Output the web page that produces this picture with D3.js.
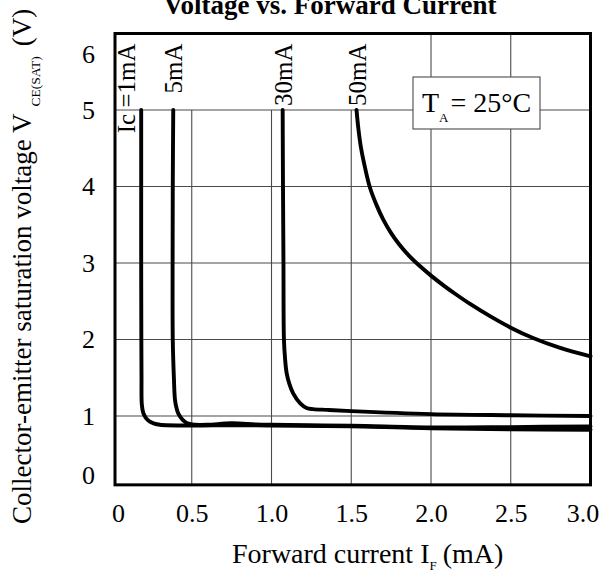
<!DOCTYPE html>
<html>
<head>
<meta charset="utf-8">
<script src="https://cdn.jsdelivr.net/npm/d3@7"></script>
<style>
  html, body { margin: 0; padding: 0; background: #fff; }
  svg { display: block; font-family: "Liberation Serif", "Times New Roman", serif; }
</style>
</head>
<body>
<div id="chart"></div>
<script>
// Axis ticks
const xTicks = [0, 0.5, 1.0, 1.5, 2.0, 2.5, 3.0];
const xTickLabels = ['0', '0.5', '1.0', '1.5', '2.0', '2.5', '3.0'];
const yTicks = [0, 1, 2, 3, 4, 5, 6];

// Curve labels (one per collector current)
const seriesNames = ['Ic =1mA', '5mA', '30mA', '50mA'];

// [forward current IF (mA), VCE(sat) (V)]
const ic1mA = [
  [0.183, 5.0], [0.183, 4.0], [0.183, 3.0], [0.184, 2.0], [0.185, 1.5],
  [0.187, 1.15], [0.196, 1.04], [0.211, 0.98], [0.235, 0.93], [0.265, 0.90],
  [0.30, 0.885], [0.5, 0.875], [0.75, 0.88], [1.0, 0.875], [1.5, 0.865],
  [2.0, 0.84], [2.5, 0.825], [3.0, 0.82]
];
const ic5mA = [
  [0.384, 5.0], [0.381, 4.0], [0.380, 3.0], [0.381, 2.0], [0.388, 1.5],
  [0.395, 1.21], [0.405, 1.10], [0.416, 1.03], [0.443, 0.95], [0.478, 0.90],
  [0.52, 0.885], [0.6, 0.885], [0.75, 0.905], [0.9, 0.89], [1.0, 0.885],
  [1.5, 0.872], [2.0, 0.85], [2.5, 0.855], [3.0, 0.865]
];
const ic30mA = [
  [1.070, 5.0], [1.072, 4.0], [1.075, 3.0], [1.078, 2.0], [1.085, 1.75],
  [1.095, 1.56], [1.112, 1.42], [1.135, 1.30], [1.18, 1.165], [1.22, 1.105],
  [1.26, 1.09], [1.35, 1.08], [1.5, 1.064], [2.0, 1.025], [2.5, 1.01], [3.0, 1.0]
];
const ic50mA = [
  [1.533, 5.0], [1.545, 4.75], [1.56, 4.52], [1.586, 4.25], [1.618, 3.98],
  [1.66, 3.75], [1.70, 3.57], [1.75, 3.39], [1.80, 3.245], [1.86, 3.10],
  [1.93, 2.96], [2.0, 2.835], [2.08, 2.705], [2.16, 2.585], [2.245, 2.465],
  [2.37, 2.305], [2.5, 2.155], [2.64, 2.02], [2.81, 1.89], [3.0, 1.78]
];
const seriesData = [ic1mA, ic5mA, ic30mA, ic50mA];

const width = 613, height = 578;
const fontSerif = '"Liberation Serif", "Times New Roman", serif';

const svg = d3.select('#chart')
  .append('svg')
  .attr('width', width)
  .attr('height', height)
  .attr('viewBox', `0 0 ${width} ${height}`);

svg.append('rect').attr('width', width).attr('height', height).attr('fill', '#fff');

const x = d3.scaleLinear().domain([0, 3]).range([112, 590.5]);
const y = d3.scaleLinear().domain([0, 6]).range([492.5, 33.5]);

// the original drawing's floor sits a little above 0 V
const vFloor = 0.1;
const frameLeft = x(0) + 3, frameRight = x(3);
const frameTop = y(6), frameBottom = y(vFloor);

// Grid
const grid = svg.append('g').attr('class', 'grid')
  .attr('stroke', '#4a4a4a').attr('stroke-width', 1.1);

grid.selectAll('line.v')
  .data(xTicks.filter(d => d > 0 && d < 3))
  .join('line')
  .attr('class', 'v')
  .attr('x1', d => x(d)).attr('x2', d => x(d))
  .attr('y1', frameBottom)
  // the label area above 5 V stays clear on the left half
  .attr('y2', d => d <= 1.5 ? y(5) : frameTop);

grid.selectAll('line.h')
  .data(yTicks.filter(d => d > 0 && d < 6))
  .join('line')
  .attr('class', 'h')
  .attr('x1', frameLeft).attr('x2', frameRight)
  .attr('y1', d => y(d)).attr('y2', d => y(d));

// Curves
const line = d3.line()
  .x(d => x(d[0]))
  .y(d => y(d[1]))
  .curve(d3.curveCatmullRom.alpha(0.5));

svg.append('g').attr('class', 'curves')
  .selectAll('path')
  .data(seriesData)
  .join('path')
  .attr('d', line)
  .attr('fill', 'none')
  .attr('stroke', '#000')
  .attr('stroke-width', 3.9)
  .attr('stroke-linejoin', 'round')
  .attr('stroke-linecap', 'round');

// Curve labels, rotated, above each curve's top end
svg.append('g').attr('class', 'curve-labels')
  .selectAll('text')
  .data(seriesNames)
  .join('text')
  .attr('transform', (d, i) => {
    const top = seriesData[i][0];
    const bx = x(top[0]) + (i === 0 ? -6 : 9);
    return `translate(${bx},${y(6) + 10}) rotate(-90)`;
  })
  .attr('text-anchor', 'end')
  .style('font-family', fontSerif)
  .style('font-size', '25px')
  .text(d => d);

// Axes (labels only, the frame is drawn separately)
const xAxis = d3.axisBottom(x)
  .tickValues(xTicks)
  .tickFormat((d, i) => xTickLabels[i])
  .tickSize(0)
  .tickPadding(19);

svg.append('g')
  .attr('class', 'x-axis')
  .attr('transform', `translate(0,${frameBottom})`)
  .call(xAxis)
  .call(g => g.select('.domain').remove())
  .call(g => g.selectAll('.tick text')
    .attr('fill', '#000')
    .style('font-family', fontSerif)
    .style('font-size', '26px')
    .attr('dx', d => d === 0 ? 6 : d === 3 ? -8 : 0));

const yAxis = d3.axisLeft(y)
  .tickValues(yTicks)
  .tickFormat(d3.format('d'))
  .tickSize(0)
  .tickPadding(20);

svg.append('g')
  .attr('class', 'y-axis')
  .attr('transform', `translate(${frameLeft},0)`)
  .call(yAxis)
  .call(g => g.select('.domain').remove())
  .call(g => g.selectAll('.tick text')
    .attr('fill', '#000')
    .style('font-family', fontSerif)
    .style('font-size', '26px')
    // end labels are pulled inside the frame like in the scan
    .attr('y', d => d === 0 ? -17 : d === 6 ? 21 : 0));

// Frame
svg.append('rect')
  .attr('x', frameLeft)
  .attr('y', frameTop)
  .attr('width', frameRight - frameLeft)
  .attr('height', frameBottom - frameTop)
  .attr('fill', 'none')
  .attr('stroke', '#000')
  .attr('stroke-width', 3);

// Ambient temperature box
const box = svg.append('g').attr('class', 'ta-box');
box.append('rect')
  .attr('x', 413).attr('y', 77)
  .attr('width', 127).attr('height', 52)
  .attr('fill', '#fff')
  .attr('stroke', '#4a4a4a')
  .attr('stroke-width', 1.1);
const taText = box.append('text')
  .attr('x', 422).attr('y', 112)
  .style('font-family', fontSerif)
  .style('font-size', '28px');
taText.append('tspan').text('T');
taText.append('tspan').attr('dy', 10).style('font-size', '13px').text('A');
taText.append('tspan').attr('dy', -10).attr('dx', 2).text('= 25°C');

// Title (top is cropped in the source)
svg.append('text')
  .attr('x', 330).attr('y', 14)
  .attr('text-anchor', 'middle')
  .style('font-family', fontSerif)
  .style('font-size', '27px')
  .style('font-weight', 'bold')
  .text('Voltage vs. Forward Current');

// X axis title
const xTitle = svg.append('text')
  .attr('x', 232).attr('y', 563)
  .style('font-family', fontSerif)
  .style('font-size', '28px');
xTitle.append('tspan').text('Forward current I');
xTitle.append('tspan').attr('dy', 7).style('font-size', '13px').text('F');
xTitle.append('tspan').attr('dy', -7).attr('dx', 6).text('(mA)');

// Y axis title
const yTitle = svg.append('text')
  .attr('transform', 'translate(31,524) rotate(-90)')
  .style('font-family', fontSerif)
  .style('font-size', '27px');
yTitle.append('tspan').text('Collector-emitter saturation voltage V');
yTitle.append('tspan').attr('dy', 9).attr('dx', 7).style('font-size', '13.5px').text('CE(SAT)');
yTitle.append('tspan').attr('dy', -9).attr('dx', 10).text('(V)');
</script>
</body>
</html>
